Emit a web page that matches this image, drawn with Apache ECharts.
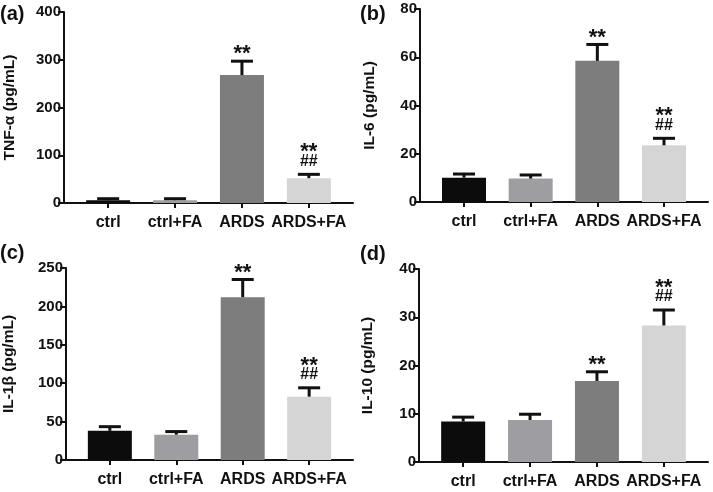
<!DOCTYPE html>
<html>
<head>
<meta charset="utf-8">
<script src="https://cdn.jsdelivr.net/npm/echarts@6/dist/echarts.min.js"></script>
<style>
html,body{margin:0;padding:0;background:#fff;}
#chart{width:713px;height:492px;}
</style>
</head>
<body>
<div id="chart"></div>
<script>
// ---- data ----
const categories = ['ctrl', 'ctrl+FA', 'ARDS', 'ARDS+FA'];
const barColors = ['#0c0c0c', '#9e9ea2', '#7d7d7d', '#d5d5d5'];

const tnfMean = [6, 6, 268, 52];
const tnfErr = [3, 3, 29, 8];
const tnfStars = ['', '', '**', '**'];
const tnfHash = ['', '', '', '##'];
const tnfTicks = [0, 100, 200, 300, 400];

const il6Mean = [10.1, 9.7, 58.5, 23.5];
const il6Err = [1.5, 1.5, 6.8, 2.9];
const il6Stars = ['', '', '**', '**'];
const il6Hash = ['', '', '', '##'];
const il6Ticks = [0, 20, 40, 60, 80];

const il1bMean = [38, 33, 212, 82.5];
const il1bErr = [5.4, 4, 23, 11.5];
const il1bStars = ['', '', '**', '**'];
const il1bHash = ['', '', '', '##'];
const il1bTicks = [0, 50, 100, 150, 200, 250];

const il10Mean = [8.4, 8.7, 16.8, 28.3];
const il10Err = [0.9, 1.2, 1.9, 3.2];
const il10Stars = ['', '', '**', '**'];
const il10Hash = ['', '', '', '##'];
const il10Ticks = [0, 10, 20, 30, 40];

const panelLabels = ['(a)', '(b)', '(c)', '(d)'];
const yNames = ['TNF-\u03b1 (pg/mL)', 'IL-6 (pg/mL)', 'IL-1\u03b2 (pg/mL)', 'IL-10 (pg/mL)'];

// ---- layout ----
const FONT = '"Liberation Sans", Arial, sans-serif';
const panels = [
  {mean: tnfMean, err: tnfErr, stars: tnfStars, hash: tnfHash, ticks: tnfTicks,
   grid: {left: 64, top: 12, width: 289, height: 191}, nameGap: 46, lab: [0, 4]},
  {mean: il6Mean, err: il6Err, stars: il6Stars, hash: il6Hash, ticks: il6Ticks,
   grid: {left: 420, top: 9, width: 288, height: 193}, nameGap: 42, lab: [360, 4]},
  {mean: il1bMean, err: il1bErr, stars: il1bStars, hash: il1bHash, ticks: il1bTicks,
   grid: {left: 64, top: 268, width: 289, height: 192}, nameGap: 49, lab: [0, 243]},
  {mean: il10Mean, err: il10Err, stars: il10Stars, hash: il10Hash, ticks: il10Ticks,
   grid: {left: 419, top: 269, width: 289, height: 193}, nameGap: 43, lab: [360, 244]}
];

const grids = [], xAxes = [], yAxes = [], series = [], graphics = [];
const idx = [0, 1, 2, 3];

panels.forEach((p, k) => {
  grids.push(Object.assign({containLabel: false}, p.grid));
  xAxes.push({
    gridIndex: k, type: 'value', min: -0.66, max: 3.66,
    splitLine: {show: false},
    axisLine: {show: true, onZero: false, lineStyle: {color: '#111', width: 2}},
    axisTick: {show: true, customValues: idx, length: 5, lineStyle: {color: '#111', width: 2}},
    axisLabel: {show: true, customValues: idx, margin: 12, color: '#111', fontSize: 16,
      fontWeight: 'bold', fontFamily: FONT,
      formatter: v => categories[Math.round(v)] || ''}
  });
  const tk = p.ticks;
  yAxes.push({
    gridIndex: k, type: 'value', min: tk[0], max: tk[tk.length - 1], interval: tk[1] - tk[0],
    name: yNames[k], nameLocation: 'middle', nameGap: p.nameGap,
    nameTextStyle: {color: '#111', fontSize: 15.5, fontWeight: 'bold', fontFamily: FONT},
    splitLine: {show: false},
    axisLine: {show: true, onZero: false, lineStyle: {color: '#111', width: 2}},
    axisTick: {show: true, length: 6, lineStyle: {color: '#111', width: 2}},
    axisLabel: {margin: 3, color: '#111', fontSize: 15, fontWeight: 'bold', fontFamily: FONT}
  });
  series.push({
    type: 'bar', xAxisIndex: k, yAxisIndex: k, barWidth: 44, animation: false,
    data: p.mean.map((v, i) => ({value: [i, v], itemStyle: {color: barColors[i]}}))
  });
  // error bars (upper only)
  series.push({
    type: 'custom', xAxisIndex: k, yAxisIndex: k, animation: false, z: 5,
    data: p.mean.map((v, i) => [i, v, v + p.err[i]]),
    renderItem: (params, api) => {
      const b = api.coord([api.value(0), api.value(1)]);
      const t = api.coord([api.value(0), api.value(2)]);
      const st = {stroke: '#111', lineWidth: 3};
      return {type: 'group', children: [
        {type: 'line', shape: {x1: b[0], y1: b[1], x2: t[0], y2: t[1]}, style: st},
        {type: 'line', shape: {x1: t[0] - 11, y1: t[1], x2: t[0] + 11, y2: t[1]}, style: st}
      ]};
    }
  });
  // significance marks
  series.push({
    type: 'custom', xAxisIndex: k, yAxisIndex: k, animation: false, z: 6,
    data: p.mean.map((v, i) => [i, v + p.err[i]]),
    renderItem: (params, api) => {
      const i = params.dataIndex;
      const c = api.coord([api.value(0), api.value(1)]);
      const ch = [];
      const hasHash = !!p.hash[i];
      if (hasHash) {
        ch.push({type: 'text', x: c[0], y: c[1] - 13, style: {text: p.hash[i], fill: '#111',
          font: 'bold 16px ' + FONT, textAlign: 'center', textVerticalAlign: 'middle'}});
      }
      if (p.stars[i]) {
        const off = hasHash ? 28 : 13;
        ch.push({type: 'text', x: c[0], y: c[1] - off + 6, style: {text: p.stars[i], fill: '#111',
          font: 'bold 22px ' + FONT, textAlign: 'center', textVerticalAlign: 'middle'}});
      }
      return {type: 'group', children: ch};
    }
  });
  graphics.push({type: 'text', left: p.lab[0], top: p.lab[1],
    style: {text: panelLabels[k], fill: '#111', font: 'bold 20px ' + FONT}});
});

const chart = echarts.init(document.getElementById('chart'), null, {renderer: 'canvas'});
chart.setOption({
  animation: false,
  backgroundColor: '#fff',
  grid: grids, xAxis: xAxes, yAxis: yAxes, series: series, graphic: graphics
});
</script>
</body>
</html>
